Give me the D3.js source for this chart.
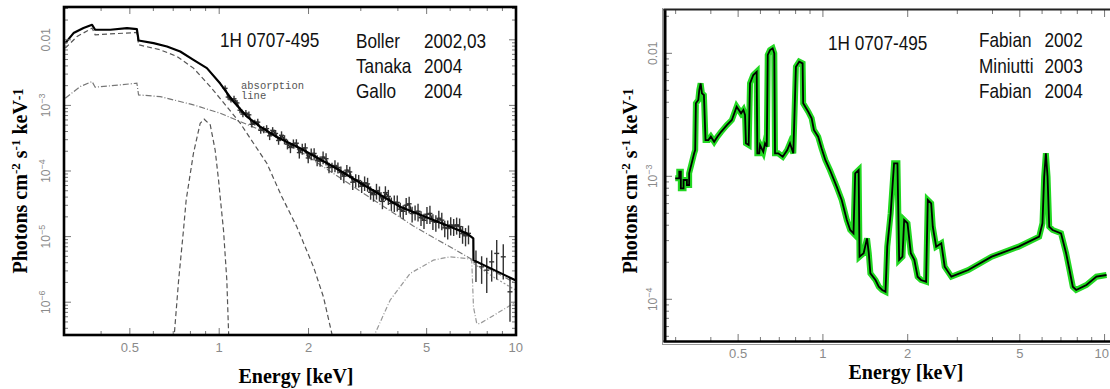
<!DOCTYPE html>
<html>
<head>
<meta charset="utf-8">
<script src="https://cdn.jsdelivr.net/npm/d3@7"></script>
<style>
  body { margin: 0; background: #fff; }
  svg { display: block; }
</style>
</head>
<body>
<script>
// ---- left panel: XMM spectrum with model components (keV, photons cm-2 s-1 keV-1)
const totalE = [0.303, 0.323, 0.349, 0.373, 0.382, 0.430, 0.489, 0.528, 0.535, 0.601, 0.667, 0.739, 0.819, 0.909,
  1.008, 1.117, 1.240, 1.374, 1.564, 1.874, 2.426, 3.144, 4.069, 5.267, 6.823, 7.181, 7.19, 9.672, 10.0];
const totalV = [0.00890, 0.01266, 0.01509, 0.01694, 0.01422, 0.01422, 0.01509, 0.01457, 0.00976, 0.00890, 0.00790,
  0.00663, 0.00495, 0.00370, 0.00215, 0.001143, 6.75e-4, 4.75e-4, 3.3e-4, 2.22e-4, 1.163e-4, 5.76e-5, 2.85e-5,
  1.786e-5, 1.119e-5, 9.39e-6, 4.38e-6, 2.30e-6, 2.14e-6];

const softE = [0.303, 0.332, 0.373, 0.382, 0.528, 0.535, 0.633, 0.721, 0.819, 0.933, 1.061, 1.177, 1.305, 1.447,
  1.626, 1.826, 2.078, 2.245, 2.396, 2.45];
const softV = [0.00747, 0.0112, 0.01509, 0.01192, 0.01293, 0.00839, 0.00704, 0.00556, 0.00370, 0.001936, 9.59e-4,
  5.35e-4, 2.65e-4, 1.311e-4, 4.05e-5, 1.411e-5, 3.46e-6, 1.205e-6, 3.33e-7, 2.0e-7];

const powE = [0.303, 0.340, 0.373, 0.382, 0.430, 0.528, 0.535, 0.633, 0.819, 1.008, 1.177, 1.374, 1.605, 2.188,
  2.984, 4.511, 7.181, 9.545, 10.0];
const powV = [0.001288, 0.001936, 0.00231, 0.001896, 0.001985, 0.00218, 0.001446, 0.001363, 0.001018, 7.60e-4,
  5.66e-4, 4.23e-4, 3.16e-4, 1.248e-4, 4.95e-5, 1.446e-5, 4.38e-6, 2.17e-6, 1.93e-6];

const gaussE = [0.700, 0.730, 0.758, 0.774, 0.819, 0.863, 0.890, 0.933, 0.969, 0.995, 1.010, 1.034, 1.061, 1.080];
const gaussV = [2.0e-7, 2.17e-6, 1.256e-5, 3.61e-5, 1.863e-4, 5.35e-4, 6.16e-4, 5.04e-4, 2.09e-4, 7.29e-5, 3.61e-5,
  1.256e-5, 2.17e-6, 2.0e-7];

const humpE = [3.19, 3.352, 3.765, 4.397, 5.267, 5.995, 6.823, 7.093, 7.19, 7.374, 7.565, 8.610, 9.793, 10.0];
const humpV = [2.0e-7, 3.33e-7, 1.073e-6, 2.74e-6, 4.38e-6, 4.92e-6, 4.65e-6, 4.38e-6, 8.48e-7, 4.73e-7, 4.73e-7,
  6.72e-7, 9.55e-7, 1.0e-6];

const tailE = [7.19, 8.387, 9.545, 10.0];
const tailV = [3.90e-6, 2.43e-6, 1.713e-6, 1.525e-6];

// data bins (two interleaved read-outs of the band), value and fractional error
const dataE = [1.047, 1.096, 1.148, 1.202, 1.259, 1.318, 1.380, 1.445, 1.514, 1.585, 1.660, 1.738, 1.820, 1.905,
  1.995, 2.089, 2.188, 2.291, 2.399, 2.512, 2.630, 2.754, 2.884, 3.020, 3.162, 3.311, 3.467, 3.631, 3.802, 3.981,
  4.169, 4.365, 4.571, 4.786, 5.012, 5.248, 5.495, 5.754, 6.026, 6.310, 6.607, 6.918,
  7.33, 7.66, 7.97, 8.28, 8.61, 9.06, 9.545];
const dataV = [1.82e-3, 1.22e-3, 1.09e-3, 7.36e-4, 7.18e-4, 5.47e-4, 4.17e-4, 4.42e-4, 4.16e-4, 2.92e-4, 3.03e-4,
  2.28e-4, 2.65e-4, 2.18e-4, 1.58e-4, 1.85e-4, 1.41e-4, 1.54e-4, 1.14e-4, 1.13e-4, 8.34e-5, 9.68e-5, 7.28e-5,
  5.85e-5, 6.35e-5, 4.36e-5, 4.61e-5, 4.68e-5, 3.20e-5, 3.32e-5, 2.43e-5, 3.16e-5, 2.37e-5, 1.94e-5, 2.19e-5,
  1.72e-5, 1.90e-5, 1.36e-5, 1.50e-5, 1.51e-5, 1.11e-5, 1.12e-5,
  4.08e-6, 3.46e-6, 3.08e-6, 4.12e-6, 5.54e-6, 4.92e-6, 1.44e-6];
const dataErr = [0.10, 0.09, 0.11, 0.10, 0.12, 0.10, 0.11, 0.13, 0.12, 0.14, 0.16, 0.18, 0.15, 0.19, 0.17, 0.20,
  0.18, 0.21, 0.17, 0.19, 0.22, 0.20, 0.23, 0.21, 0.24, 0.22, 0.26, 0.25, 0.23, 0.27, 0.24, 0.28, 0.26, 0.25, 0.29,
  0.27, 0.30, 0.28, 0.31, 0.29, 0.30, 0.32, 0.50, 0.45, 0.55, 0.50, 0.60, 0.55, 0.65];

const dataE2 = [1.072, 1.122, 1.175, 1.230, 1.288, 1.349, 1.413, 1.479, 1.549, 1.622, 1.698, 1.778, 1.862, 1.950,
  2.042, 2.138, 2.239, 2.344, 2.455, 2.570, 2.692, 2.818, 2.951, 3.090, 3.236, 3.388, 3.548, 3.715, 3.890, 4.074,
  4.266, 4.467, 4.677, 4.898, 5.129, 5.370, 5.623, 5.888, 6.166, 6.457, 6.761];
const dataV2 = [1.34e-3, 1.26e-3, 8.45e-4, 7.60e-4, 5.15e-4, 5.55e-4, 4.29e-4, 3.44e-4, 3.73e-4, 3.50e-4, 2.57e-4,
  2.61e-4, 1.91e-4, 2.25e-4, 1.83e-4, 1.46e-4, 1.63e-4, 1.13e-4, 1.21e-4, 9.51e-5, 1.03e-4, 6.75e-5, 7.14e-5,
  6.61e-5, 4.74e-5, 5.02e-5, 3.44e-5, 4.09e-5, 3.30e-5, 2.62e-5, 3.01e-5, 2.25e-5, 2.43e-5, 1.77e-5, 2.25e-5,
  1.65e-5, 1.78e-5, 1.33e-5, 1.44e-5, 1.42e-5, 1.03e-5];
const dataErr2 = [0.09, 0.11, 0.10, 0.12, 0.11, 0.13, 0.12, 0.14, 0.13, 0.15, 0.17, 0.16, 0.19, 0.18, 0.20, 0.19,
  0.22, 0.18, 0.21, 0.23, 0.20, 0.24, 0.22, 0.25, 0.23, 0.27, 0.24, 0.26, 0.28, 0.25, 0.29, 0.27, 0.30, 0.26, 0.31,
  0.28, 0.30, 0.32, 0.29, 0.33, 0.31];

// ---- right panel: reflection model spectrum
const reflE = [0.299, 0.309, 0.309, 0.313, 0.313, 0.320, 0.320, 0.329, 0.329, 0.335, 0.335, 0.342, 0.349, 0.352,
  0.354, 0.361, 0.364, 0.368, 0.372, 0.378, 0.383, 0.392, 0.400, 0.411, 0.422, 0.435, 0.456, 0.475, 0.494, 0.512,
  0.522, 0.529, 0.533, 0.545, 0.551, 0.566, 0.582, 0.585, 0.594, 0.598, 0.614, 0.623, 0.632, 0.637, 0.649, 0.663,
  0.672, 0.676, 0.694, 0.720, 0.747, 0.764, 0.785, 0.802, 0.824, 0.847, 0.851, 0.887, 0.912, 0.929, 0.962, 0.989,
  1.02, 1.059, 1.119, 1.166, 1.216, 1.250, 1.284, 1.302, 1.339, 1.349, 1.395, 1.434, 1.455, 1.474, 1.537, 1.579,
  1.624, 1.668, 1.692, 1.740, 1.789, 1.839, 1.865, 1.916, 1.943, 1.997, 2.051, 2.111, 2.169, 2.230, 2.324, 2.357,
  2.423, 2.455, 2.524, 2.632, 2.706, 2.858, 3.281, 3.975, 4.955, 5.858, 6.018, 6.103, 6.188, 6.274, 6.361, 6.540,
  7.004, 7.302, 7.507, 7.712, 7.930, 8.620, 9.361, 10.16];
const reflV = [9.63e-4, 9.63e-4, 1.09e-3, 1.09e-3, 7.99e-4, 7.99e-4, 9.33e-4, 9.33e-4, 8.50e-4, 8.50e-4, 1.057e-3,
  1.276e-3, 1.538e-3, 1.636e-3, 3.92e-3, 4.17e-3, 5.03e-3, 5.70e-3, 4.73e-3, 4.58e-3, 1.972e-3, 1.97e-3, 2.10e-3,
  1.91e-3, 2.10e-3, 2.30e-3, 2.61e-3, 2.87e-3, 3.68e-3, 3.25e-3, 3.46e-3, 3.15e-3, 1.855e-3, 1.797e-3, 5.70e-3,
  6.66e-3, 7.08e-3, 1.538e-3, 1.538e-3, 1.797e-3, 1.585e-3, 1.855e-3, 1.741e-3, 9.69e-3, 1.064e-2, 1.098e-2,
  1.0e-2, 1.538e-3, 1.538e-3, 1.443e-3, 1.636e-3, 1.855e-3, 1.538e-3, 7.78e-3, 8.55e-3, 8.29e-3, 3.92e-3,
  3.35e-3, 2.96e-3, 2.38e-3, 2.10e-3, 1.689e-3, 1.357e-3, 1.125e-3, 8.23e-4, 6.42e-4, 4.41e-4, 3.66e-4, 3.44e-4,
  1.057e-3, 1.125e-3, 2.22e-4, 2.37e-4, 3.13e-4, 2.37e-4, 1.627e-4, 1.435e-4, 1.266e-4, 1.19e-4, 1.153e-4,
  2.68e-4, 5.00e-4, 1.276e-3, 1.276e-3, 2.09e-4, 2.22e-4, 4.41e-4, 4.15e-4, 2.37e-4, 2.09e-4, 1.527e-4, 1.435e-4,
  1.39e-4, 6.42e-4, 6.03e-4, 3.89e-4, 2.68e-4, 2.85e-4, 1.84e-4, 1.527e-4, 1.73e-4, 2.22e-4, 2.68e-4, 3.23e-4,
  4.15e-4, 9.92e-4, 1.538e-3, 9.92e-4, 3.89e-4, 3.66e-4, 3.44e-4, 2.37e-4, 1.73e-4, 1.266e-4, 1.19e-4, 1.307e-4,
  1.527e-4, 1.576e-4];

// ---- axes and annotation text
const xTickValues = [0.5, 1, 2, 5, 10];
const xTickLabels = ['0.5', '1', '2', '5', '10'];
const yTicksLeft = [1e-6, 1e-5, 1e-4, 1e-3, 0.01];
const yTicksRight = [1e-4, 1e-3, 0.01];
const sourceName = '1H 0707-495';
const leftAuthors = ['Boller', 'Tanaka', 'Gallo'];
const leftYears = ['2002,03', '2004', '2004'];
const rightAuthors = ['Fabian', 'Miniutti', 'Fabian'];
const rightYears = ['2002', '2003', '2004'];

const noteFont = "'Liberation Sans', Arial, sans-serif";
const serif = "'Liberation Serif', 'Times New Roman', serif";
const tickFont = "'Liberation Sans', Arial, sans-serif";

const svg = d3.select('body').append('svg').attr('width', 1110).attr('height', 389);

// condensed annotation text (narrow sans look of the original)
function note(g, x, y, txt) {
  g.append('text').attr('transform', 'translate(' + x + ',' + y + ') scale(0.86,1)')
    .attr('font-family', noteFont).attr('font-size', 20).attr('fill', '#111').text(txt);
}

function drawPanel(p) {
  const x = d3.scaleLog().domain(p.xDomain).range([p.left, p.right]);
  const y = d3.scaleLog().domain(p.yDomain).range([p.bottom, p.top]);
  const g = svg.append('g');

  svg.append('clipPath').attr('id', 'clip-' + p.id).append('rect')
    .attr('x', p.left).attr('y', p.top)
    .attr('width', p.right - p.left).attr('height', p.bottom - p.top);
  const plot = g.append('g').attr('clip-path', 'url(#clip-' + p.id + ')');

  // ticks, inward
  const ticks = g.append('g').attr('stroke', '#777').attr('stroke-width', 1);
  x.ticks().forEach(function(v) {
    const major = xTickValues.some(t => Math.abs(t - v) < 1e-9);
    const len = major ? 7 : 4;
    ticks.append('line').attr('x1', x(v)).attr('x2', x(v)).attr('y1', p.top).attr('y2', p.top + len);
    ticks.append('line').attr('x1', x(v)).attr('x2', x(v)).attr('y1', p.bottom).attr('y2', p.bottom - len);
  });
  y.ticks().forEach(function(v) {
    const lg = Math.log10(v);
    const major = Math.abs(lg - Math.round(lg)) < 1e-6;
    const len = major ? 7 : 4;
    ticks.append('line').attr('x1', p.left).attr('x2', p.left + len).attr('y1', y(v)).attr('y2', y(v));
    if (p.rightTicks) {
      ticks.append('line').attr('x1', p.right).attr('x2', p.right - len).attr('y1', y(v)).attr('y2', y(v));
    }
  });

  // x tick labels
  g.append('g').selectAll('text').data(xTickValues).enter().append('text')
    .attr('x', (d, i) => i === xTickValues.length - 1 ? Math.min(x(d) + 7, 1109) : x(d))
    .attr('y', p.xLabelY)
    .attr('text-anchor', (d, i) => i === xTickValues.length - 1 ? 'end' : 'middle')
    .attr('font-family', tickFont).attr('font-size', 13).attr('fill', '#8a8a8a')
    .text((d, i) => xTickLabels[i]);

  // y tick labels, rotated
  p.yTicks.forEach(function(v) {
    const t = g.append('text')
      .attr('transform', 'translate(' + p.yLabelX + ',' + y(v) + ') rotate(-90)')
      .attr('text-anchor', 'middle')
      .attr('font-family', tickFont).attr('font-size', 12).attr('fill', '#8a8a8a');
    if (v >= 0.01) {
      t.text('0.01');
    } else {
      t.append('tspan').text('10');
      t.append('tspan').attr('dy', -5).attr('font-size', 9).text('\u2212' + (-Math.round(Math.log10(v))));
    }
  });

  // axis titles
  const yt = g.append('text')
    .attr('transform', 'translate(' + p.yTitleX + ',181) rotate(-90)')
    .attr('text-anchor', 'middle')
    .attr('font-family', serif).attr('font-weight', 'bold').attr('font-size', 20).attr('fill', '#000');
  yt.append('tspan').text('Photons cm');
  yt.append('tspan').attr('dy', -7).attr('font-size', 13).text('-2');
  yt.append('tspan').attr('dy', 7).text(' s');
  yt.append('tspan').attr('dy', -7).attr('font-size', 13).text('-1');
  yt.append('tspan').attr('dy', 7).text(' keV');
  yt.append('tspan').attr('dy', -4).attr('font-size', 14).text('-1');

  g.append('text').attr('x', p.xTitleX).attr('y', p.xTitleY)
    .attr('text-anchor', 'middle')
    .attr('font-family', serif).attr('font-weight', 'bold').attr('font-size', 20).attr('fill', '#000')
    .text('Energy [keV]');

  return {x: x, y: y, g: g, plot: plot};
}

// ================= left panel
const L = drawPanel({
  id: 'left', xDomain: [0.3, 10], yDomain: [3.162e-7, 0.03162],
  left: 64, right: 516, top: 7, bottom: 335, rightTicks: true,
  yTicks: yTicksLeft, xLabelY: 352, yLabelX: 50, yTitleX: 27, xTitleX: 296, xTitleY: 383
});

const lineL = d3.line().x(d => L.x(d[0])).y(d => L.y(d[1]));

L.plot.append('path').datum(d3.zip(humpE, humpV)).attr('d', lineL)
  .attr('fill', 'none').attr('stroke', '#999').attr('stroke-width', 1.2).attr('stroke-dasharray', '5,2,1,2');
L.plot.append('path').datum(d3.zip(tailE, tailV)).attr('d', lineL)
  .attr('fill', 'none').attr('stroke', '#999').attr('stroke-width', 1.2).attr('stroke-dasharray', '2,2');
L.plot.append('path').datum(d3.zip(gaussE, gaussV)).attr('d', lineL)
  .attr('fill', 'none').attr('stroke', '#555').attr('stroke-width', 1.2).attr('stroke-dasharray', '5,3');
L.plot.append('path').datum(d3.zip(powE, powV)).attr('d', lineL)
  .attr('fill', 'none').attr('stroke', '#777').attr('stroke-width', 1.2).attr('stroke-dasharray', '6,2,1,2');
L.plot.append('path').datum(d3.zip(softE, softV)).attr('d', lineL)
  .attr('fill', 'none').attr('stroke', '#555').attr('stroke-width', 1.2).attr('stroke-dasharray', '5,3');

// data with error bars
const pts = d3.zip(dataE, dataV, dataErr).concat(d3.zip(dataE2, dataV2, dataErr2))
  .sort((a, b) => a[0] - b[0]);
L.plot.append('path').datum(pts.filter(d => d[0] < 7.2)).attr('d', lineL)
  .attr('fill', 'none').attr('stroke', '#222').attr('stroke-width', 1.6);
const bars = L.plot.append('g').attr('stroke', '#333').attr('stroke-width', 1.4);
pts.forEach(function(d) {
  bars.append('line').attr('x1', L.x(d[0])).attr('x2', L.x(d[0]))
    .attr('y1', L.y(d[1] * (1 - d[2]))).attr('y2', L.y(d[1] * (1 + d[2])));
  bars.append('line').attr('x1', L.x(d[0]) - 2.5).attr('x2', L.x(d[0]) + 2.5)
    .attr('y1', L.y(d[1])).attr('y2', L.y(d[1]));
});

L.plot.append('path').datum(d3.zip(totalE, totalV)).attr('d', lineL)
  .attr('fill', 'none').attr('stroke', '#000').attr('stroke-width', 2.2).attr('stroke-linejoin', 'round');

L.g.append('rect').attr('x', 64).attr('y', 7).attr('width', 452).attr('height', 328)
  .attr('fill', 'none').attr('stroke', '#000').attr('stroke-width', 2.6);

// notes
note(L.g, 220, 47, sourceName);
leftAuthors.forEach(function(a, i) {
  note(L.g, 356, 48 + i * 25, a);
  note(L.g, 424, 48 + i * 25, leftYears[i]);
});
L.g.append('text').attr('x', 241).attr('y', 89).attr('font-family', "'Liberation Mono', monospace")
  .attr('font-size', 10.5).attr('fill', '#555').text('absorption');
L.g.append('text').attr('x', 241).attr('y', 99).attr('font-family', "'Liberation Mono', monospace")
  .attr('font-size', 10.5).attr('fill', '#555').text('line');

// ================= right panel
const R = drawPanel({
  id: 'right', xDomain: [0.275, 10.2], yDomain: [4.58e-5, 0.0225],
  left: 665, right: 1107, top: 10, bottom: 341, rightTicks: false,
  yTicks: yTicksRight, xLabelY: 358, yLabelX: 657, yTitleX: 637, xTitleX: 906, xTitleY: 379
});

const lineR = d3.line().x(d => R.x(d[0])).y(d => R.y(d[1]));
const refl = d3.zip(reflE, reflV);
R.plot.append('path').datum(refl).attr('d', lineR)
  .attr('fill', 'none').attr('stroke', '#22d822').attr('stroke-width', 6).attr('stroke-linejoin', 'miter');
R.plot.append('path').datum(refl).attr('d', lineR)
  .attr('fill', 'none').attr('stroke', '#000').attr('stroke-width', 1.8).attr('stroke-linejoin', 'miter');

// frame: left, bottom, top
R.g.append('line').attr('x1', 662.5).attr('x2', 662.5).attr('y1', 8).attr('y2', 344).attr('stroke', '#999').attr('stroke-width', 1);
R.g.append('line').attr('x1', 662).attr('x2', 1110).attr('y1', 344.5).attr('y2', 344.5).attr('stroke', '#999').attr('stroke-width', 1);
R.g.append('line').attr('x1', 665).attr('x2', 665).attr('y1', 9).attr('y2', 342).attr('stroke', '#000').attr('stroke-width', 3);
R.g.append('line').attr('x1', 663.5).attr('x2', 1110).attr('y1', 341.5).attr('y2', 341.5).attr('stroke', '#000').attr('stroke-width', 2.6);
R.g.append('line').attr('x1', 663.5).attr('x2', 1110).attr('y1', 9.5).attr('y2', 9.5).attr('stroke', '#222').attr('stroke-width', 2);

note(R.g, 828, 50, sourceName);
rightAuthors.forEach(function(a, i) {
  note(R.g, 979, 47 + i * 25.5, a);
  note(R.g, 1044.5, 47 + i * 25.5, rightYears[i]);
});
</script>
</body>
</html>
